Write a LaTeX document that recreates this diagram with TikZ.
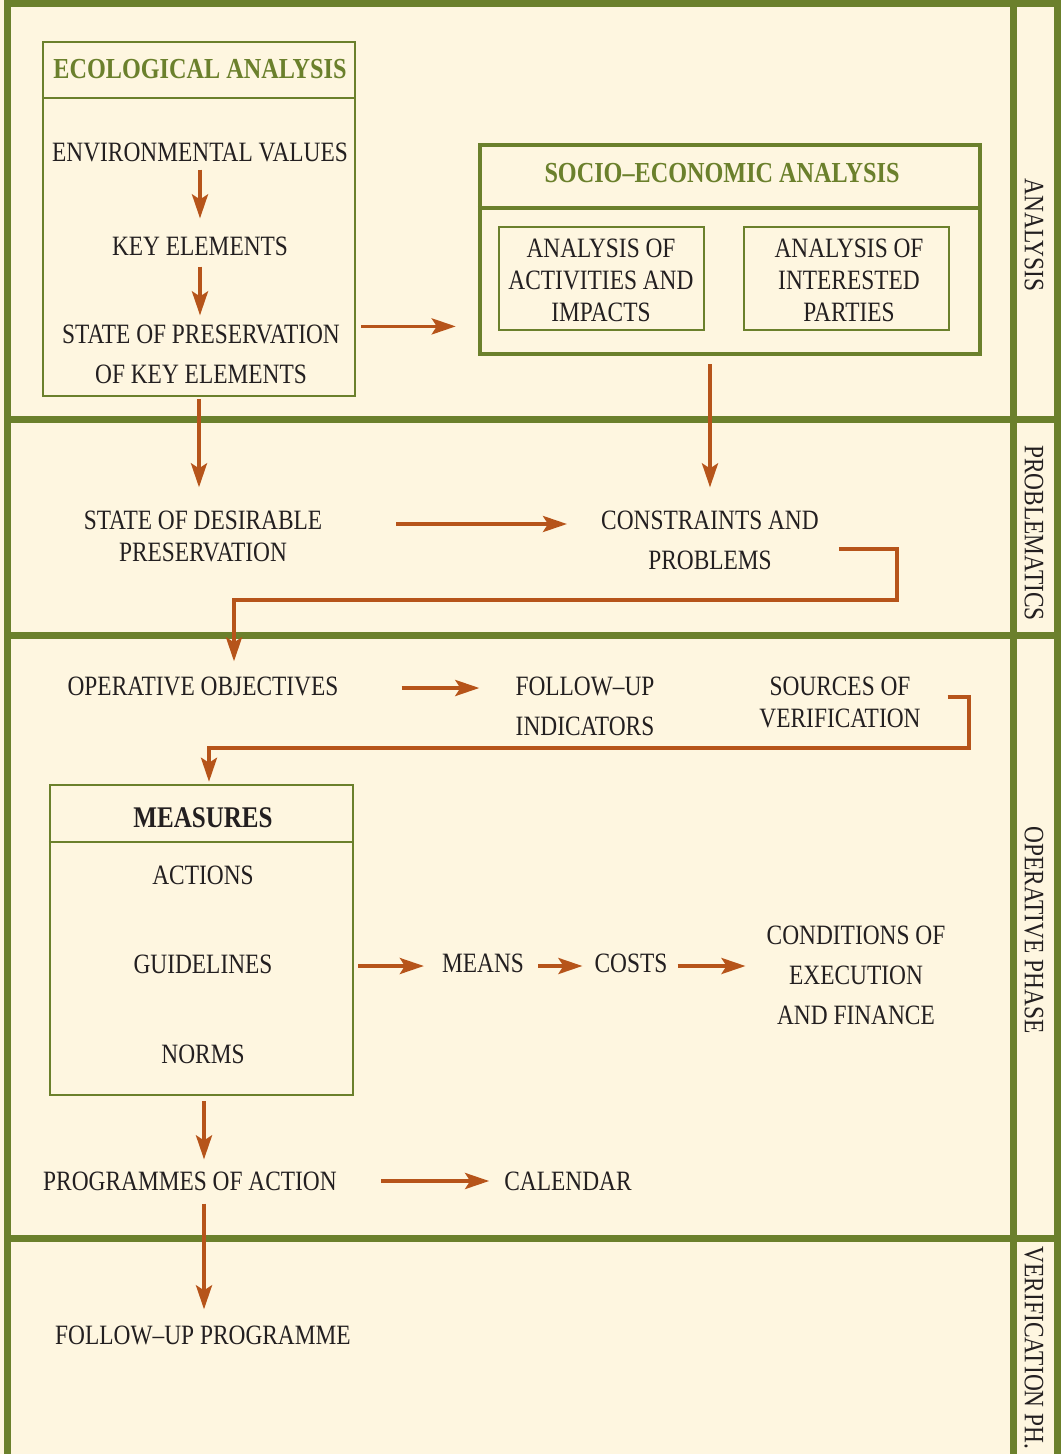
\documentclass[tikz,border=0pt]{standalone}
\usepackage{fontspec}
\setmainfont{Liberation Serif}[FakeStretch=0.835]
\usetikzlibrary{arrows.meta,calc}
\definecolor{grn}{RGB}{107,128,44}
\definecolor{orn}{RGB}{182,84,26}
\definecolor{crm}{RGB}{254,246,224}
\definecolor{ink}{RGB}{35,31,32}
\begin{document}
\begin{tikzpicture}[x=1pt,y=-1pt,
  tx/.style={inner sep=0pt, text=ink, font=\fontsize{28}{32}\selectfont, align=center},
  txw/.style={tx, font=\fontsize{28}{40}\selectfont},
  hd/.style={tx, text=grn, font=\fontsize{29}{32}\selectfont\bfseries},
  side/.style={tx, rotate=-90},
  thinbox/.style={draw=grn, line width=2.5pt, inner sep=0pt},
  thickbox/.style={draw=grn, line width=4.5pt, inner sep=0pt},
  arr/.style={draw=orn, line width=3.7pt, -{Stealth[length=24pt,width=16pt,inset=5pt]}},
  conn/.style={draw=orn, line width=3.7pt}]
\useasboundingbox (0,0) rectangle (1061,1454);
\fill[crm] (0,0) rectangle (1061,1454);
% frame
\fill[grn] (4,0) rectangle (1061,7);
\fill[grn] (4,0) rectangle (11,1454);
\fill[grn] (1010,0) rectangle (1017,1454);
\fill[grn] (1054,0) rectangle (1061,1454);
\fill[grn] (4,415.5) rectangle (1061,422.5);
\fill[grn] (4,632) rectangle (1061,639);
\fill[grn] (4,1235) rectangle (1061,1242);
% side labels
\node[side] (lab1) at (1034,235) {ANALYSIS};
\node[side] (lab2) at (1034,533) {PROBLEMATICS};
\node[side] (lab3) at (1034,930) {OPERATIVE PHASE};
\node[side] (lab4) at (1034,1348) {VERIFICATION PH.};
% ecological box
\node[thinbox, minimum width=312, minimum height=354] (eco) at (199,219) {};
\draw[grn, line width=2.5pt] ([yshift=-57pt]eco.north west) -- ([yshift=-57pt]eco.north east);
\node[hd] (ecoT) at (200,69) {ECOLOGICAL ANALYSIS};
\node[tx] (ev) at (200,152) {ENVIRONMENTAL VALUES};
\node[tx] (ke) at (200,246) {KEY ELEMENTS};
\node[txw] (sp) at (201,354) {STATE OF PRESERVATION\\OF KEY ELEMENTS};
% socio-economic box
\node[thickbox, minimum width=500, minimum height=209] (se) at (730,249.5) {};
\draw[grn, line width=4.5pt] ([yshift=-65pt]se.north west) -- ([yshift=-65pt]se.north east);
\node[hd] (seT) at (722,173) {SOCIO–ECONOMIC ANALYSIS};
\node[thinbox, minimum width=205, minimum height=103] (aa) at (601.5,278.5) {};
\node[tx] (aaT) at (601,280) {ANALYSIS OF\\ACTIVITIES AND\\IMPACTS};
\node[thinbox, minimum width=205, minimum height=103] (ip) at (846.5,278.5) {};
\node[tx] (ipT) at (849,280) {ANALYSIS OF\\INTERESTED\\PARTIES};
% problematics
\node[tx] (sd) at (203,536) {STATE OF DESIRABLE\\PRESERVATION};
\node[txw] (cp) at (710,540) {CONSTRAINTS AND\\PROBLEMS};
% operative
\node[tx] (oo) at (203,686) {OPERATIVE OBJECTIVES};
\node[txw] (fi) at (585,706) {FOLLOW–UP\\INDICATORS};
\node[tx] (sv) at (840,702) {SOURCES OF\\VERIFICATION};
\node[thinbox, minimum width=303, minimum height=310] (meas) at (201.5,940) {};
\draw[grn, line width=2.5pt] ([yshift=-58pt]meas.north west) -- ([yshift=-58pt]meas.north east);
\node[tx, font=\fontsize{30}{32}\selectfont\bfseries] (mT) at (203,818) {MEASURES};
\node[tx] (ac) at (203,875) {ACTIONS};
\node[tx] (gl) at (203,964) {GUIDELINES};
\node[tx] (no) at (203,1054) {NORMS};
\node[tx] (mn) at (483,963) {MEANS};
\node[tx] (co) at (631,963) {COSTS};
\node[txw] (ce) at (856,975) {CONDITIONS OF\\EXECUTION\\AND FINANCE};
\node[tx] (pa) at (190,1181) {PROGRAMMES OF ACTION};
\node[tx] (cal) at (568,1181) {CALENDAR};
% verification
\node[tx] (fu) at (203,1335) {FOLLOW–UP PROGRAMME};
% connectors
\draw[arr] ([yshift=-8pt]ev.south) -- ([yshift=18pt]ke.north);
\draw[arr] ([yshift=-11pt]ke.south) -- ($(ke.south |- sp.north)+(0,9pt)$);
\draw[arr] ($(eco.east |- sp.north)+(5pt,-2pt)$) -- ($(se.west |- sp.north)+(-22pt,-2pt)$);
\draw[arr] ([yshift=-2pt]eco.south) -- ($(eco.south |- sd.north)+(0,23pt)$);
\draw[arr] ($(cp.north |- se.south)+(0,-8pt)$) -- ([yshift=23pt]cp.north);
\draw[arr] ($(sd.east)+(74pt,12pt)$) -- ($(cp.west |- sd.east)+(-34pt,12pt)$);
\draw[arr] ($(cp.east)+(20pt,-9pt)$) -- ++(58pt,0) -- ++(0,-51pt) -| ([shift={(31pt,15pt)}]oo.north);
\draw[arr] ($(oo.east)+(63pt,-2pt)$) -- ($(fi.west |- oo.east)+(-36pt,-2pt)$);
\draw[arr] ($(sv.east)+(27pt,5pt)$) -- ++(21pt,0) -- ++(0,-51pt) -| ([shift={(7.5pt,2pt)}]meas.north);
\draw[arr] ($(meas.east |- mn.center)+(4pt,-3pt)$) -- ($(mn.west)+(-18pt,-3pt)$);
\draw[arr] ($(mn.east)+(14pt,-3pt)$) -- ($(co.west)+(-12pt,-3pt)$);
\draw[arr] ($(co.east)+(10pt,-3pt)$) -- ($(ce.west |- co.east)+(-21pt,-3pt)$);
\draw[arr] ($(meas.south)+(2.5pt,-5pt)$) -- ($(meas.south |- pa.north)+(2.5pt,12pt)$);
\draw[arr] ($(pa.east)+(44pt,0)$) -- ($(cal.west)+(-15pt,0)$);
\draw[arr] ($(meas.south |- pa.south)+(2.5pt,-13pt)$) -- ($(meas.south |- fu.north)+(2.5pt,16pt)$);
\end{tikzpicture}
\end{document}
